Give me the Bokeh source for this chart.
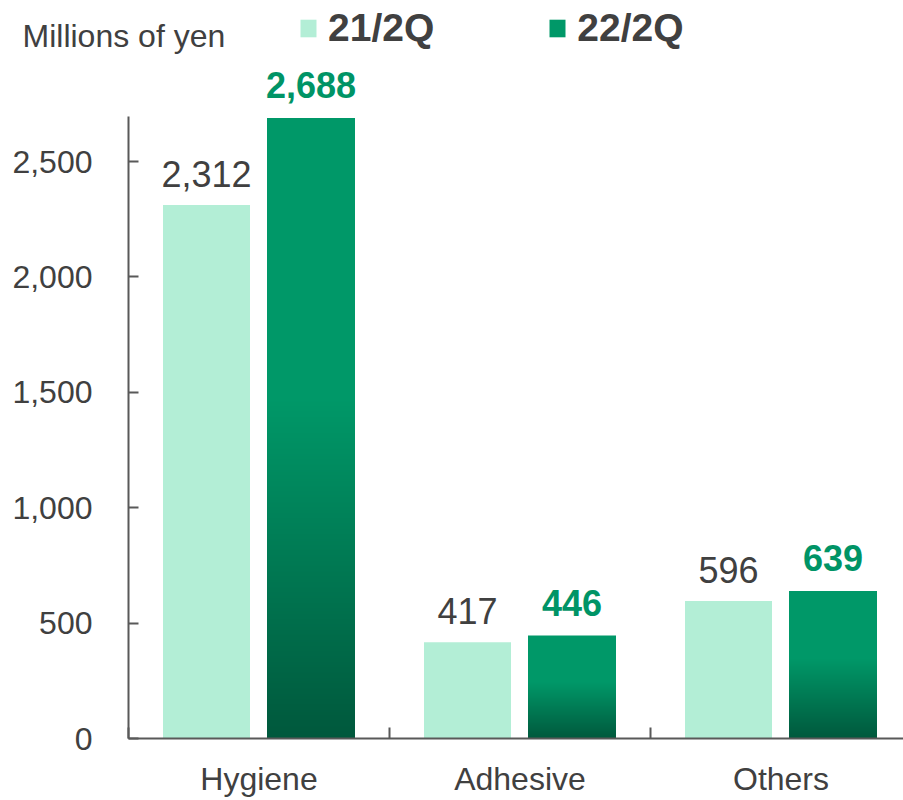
from bokeh.plotting import figure
from bokeh.models import (Range1d, FixedTicker, NumeralTickFormatter, ColumnDataSource,
                          Label, Legend, LegendItem)
from bokeh.core.properties import value
from bokeh.embed import file_html
from bokeh.resources import INLINE

# ---- data ----
categories = ["Hygiene", "Adhesive", "Others"]
series_names = ["21/2Q", "22/2Q"]
values_21 = [2312, 417, 596]
values_22 = [2688, 446, 639]
y_ticks = [0, 500, 1000, 1500, 2000, 2500]
unit_label = "Millions of yen"

# ---- style ----
FONT = "Liberation Sans"
GRAY = "#404040"
AXIS = "#595959"
LIGHT = "#b3eed6"
GREEN_TOP = (0, 152, 104)
GREEN_BOTTOM = (0, 88, 60)
LABEL_GREEN = "#009466"
SOLID_FROM = 0.55
W, H = 903, 800
PX_X = 261.0      # pixels per category
PX_Y = 0.2308     # pixels per unit
X0_PX, Y0_PX = 128, 738   # pixel position of the origin
# bar edges relative to the category centre, in pixels
L_EDGES = (-96, -9)
D_EDGES = (8, 96)
OVERLAP_PX = 0.6

p = figure(width=W, height=H, output_backend="svg", toolbar_location=None,
           x_range=Range1d(-X0_PX / PX_X, (W - X0_PX) / PX_X),
           y_range=Range1d(-(H - Y0_PX) / PX_Y, Y0_PX / PX_Y),
           min_border_left=0, min_border_right=0, min_border_top=0, min_border_bottom=0)
p.outline_line_color = None
p.xgrid.visible = False
p.ygrid.visible = False
p.background_fill_color = "white"
p.border_fill_color = "white"

n = len(categories)
xc = [i + 0.5 for i in range(n)]

def edges(c, e):
    return c + e[0] / PX_X, c + e[1] / PX_X

# light bars
src21 = ColumnDataSource(dict(x=[sum(edges(c, L_EDGES)) / 2 for c in xc],
                              left=[edges(c, L_EDGES)[0] for c in xc],
                              right=[edges(c, L_EDGES)[1] for c in xc],
                              top=values_21, bottom=[0] * n,
                              label=[f"{v:,}" for v in values_21]))
r21 = p.quad(left="left", right="right", top="top", bottom="bottom", source=src21,
             fill_color=LIGHT, line_color=None)

# dark bars: lower part is a vertical gradient made of one-pixel-row slices
# (each slightly overlapped by the next one), upper part solid
def mix(t):
    r = [round(GREEN_BOTTOM[j] + (GREEN_TOP[j] - GREEN_BOTTOM[j]) * t) for j in range(3)]
    return "#%02x%02x%02x" % tuple(r)

g = dict(left=[], right=[], bottom=[], top=[], color=[])
solid_bottoms = []
for c, v in zip(xc, values_22):
    x0, x1 = edges(c, D_EDGES)
    rows = int(round(v * SOLID_FROM * PX_Y))
    for k in range(rows):
        g["left"].append(x0); g["right"].append(x1)
        g["bottom"].append(max(0.0, (k - 0.5) / PX_Y))
        g["top"].append((k + 0.5 + OVERLAP_PX) / PX_Y)
        g["color"].append(mix((k + 0.5) / rows))
    solid_bottoms.append((rows - 0.5) / PX_Y)
p.quad(left="left", right="right", bottom="bottom", top="top", source=ColumnDataSource(g),
       fill_color="color", line_color=None)

src22 = ColumnDataSource(dict(x=[sum(edges(c, D_EDGES)) / 2 for c in xc],
                              left=[edges(c, D_EDGES)[0] for c in xc],
                              right=[edges(c, D_EDGES)[1] for c in xc],
                              top=values_22, bottom=solid_bottoms,
                              label=[f"{v:,}" for v in values_22]))
r22 = p.quad(left="left", right="right", top="top", bottom="bottom", source=src22,
             fill_color=mix(1.0), line_color=None)

# value labels
p.text(x="x", y="top", text="label", source=src21, text_align="center",
       text_baseline="alphabetic", y_offset=-31, text_font=value(FONT),
       text_font_size="36px", text_color=GRAY)
p.text(x="x", y="top", text="label", source=src22, text_align="center",
       text_baseline="alphabetic", y_offset=-33, text_font=value(FONT),
       text_font_size="36px", text_font_style="bold", text_color=LABEL_GREEN)

# y axis (drawn at x = 0)
ya = p.yaxis[0]
ya.fixed_location = 0
ya.ticker = FixedTicker(ticks=y_ticks)
ya.formatter = NumeralTickFormatter(format="0,0")
ya.bounds = (0, 2695)
ya.major_label_text_font = FONT
ya.major_label_text_font_size = "32px"
ya.major_label_text_color = GRAY
ya.major_tick_in = 10
ya.major_tick_out = 0
ya.major_tick_line_color = AXIS
ya.major_tick_line_width = 2
ya.minor_tick_line_color = None
ya.axis_line_color = AXIS
ya.axis_line_width = 2
ya.major_label_standoff = 36

# x axis (drawn at y = 0)
xa = p.xaxis[0]
xa.fixed_location = 0
xa.bounds = (0, n)
xa.ticker = FixedTicker(ticks=xc, minor_ticks=list(range(n + 1)))
xa.major_label_overrides = {xc[i]: categories[i] for i in range(n)}
xa.major_label_text_font = FONT
xa.major_label_text_font_size = "32px"
xa.major_label_text_color = GRAY
xa.major_tick_line_color = None
xa.major_tick_in = 0
xa.major_tick_out = 0
xa.minor_tick_in = 11
xa.minor_tick_out = 0
xa.minor_tick_line_color = AXIS
xa.minor_tick_line_width = 2
xa.axis_line_color = AXIS
xa.axis_line_width = 2
xa.major_label_standoff = 22

# legend
legend = Legend(items=[LegendItem(label=series_names[0], renderers=[r21]),
                       LegendItem(label=series_names[1], renderers=[r22])],
                orientation="horizontal", location=(298, H - 50),
                padding=0, margin=0, spacing=113, label_standoff=10,
                glyph_width=20, glyph_height=22, label_height=22,
                border_line_color=None, background_fill_alpha=0,
                label_text_font=FONT, label_text_font_size="39px",
                label_text_font_style="bold", label_text_color=GRAY)
p.add_layout(legend, "center")

p.add_layout(Label(x=22, y=H - 35, x_units="screen", y_units="screen", text=unit_label,
                   text_font=FONT, text_font_size="32px", text_color=GRAY,
                   text_baseline="alphabetic"))

open("out.html", "w").write(file_html(p, INLINE))
